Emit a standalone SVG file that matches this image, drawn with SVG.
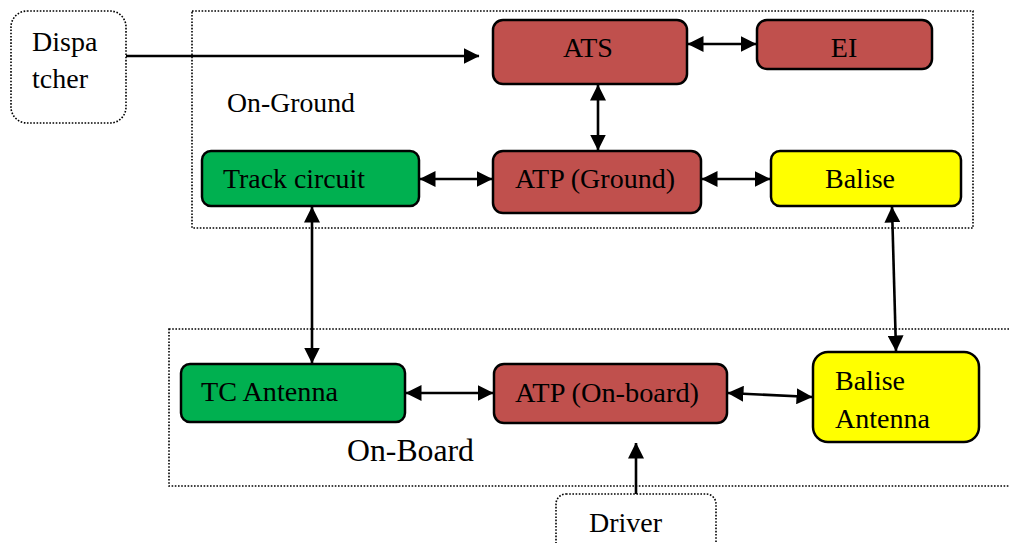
<svg xmlns="http://www.w3.org/2000/svg" width="1010" height="543" viewBox="0 0 1010 543">
<defs>
<marker id="ah" markerUnits="userSpaceOnUse" markerWidth="16" markerHeight="16" viewBox="0 0 16 16" refX="15.5" refY="8" orient="auto-start-reverse">
<path d="M0,0 L16,8 L0,16 z" fill="#000"/>
</marker>
<style>
.t{font-family:"Liberation Serif","Times New Roman",serif;font-size:28px;fill:#000}
.box{stroke:#000;stroke-width:2.5}
.red{fill:#C0504D}
.green{fill:#00B050}
.yellow{fill:#FFFF00}
.dot{fill:none;stroke:#000;stroke-width:1.6;stroke-dasharray:1.6 1.6}
.c{stroke:#000;stroke-width:2.6;fill:none}
</style>
</defs>
<rect width="1010" height="543" fill="#fff"/>
<g font-family="'Liberation Serif', 'Times New Roman', serif">
<g id="on-ground">
<rect class="dot" x="192" y="11" width="781" height="217"/>
<text class="t" x="227" y="112" textLength="128" lengthAdjust="spacingAndGlyphs">On-Ground</text>
</g>
<g id="on-board">
<rect class="dot" x="169" y="329" width="850" height="157"/>
<text class="t" x="347" y="461" style="font-size:31px" textLength="127" lengthAdjust="spacingAndGlyphs">On-Board</text>
</g>
<g id="dispatcher">
<rect class="dot" x="11" y="11" width="115" height="112" rx="16"/>
<text class="t" x="32" y="51">Dispa</text>
<text class="t" x="32" y="88">tcher</text>
</g>
<g id="driver">
<rect class="dot" x="556" y="494" width="160" height="70" rx="10"/>
<text class="t" x="589" y="532">Driver</text>
</g>
<g id="ats">
<rect class="box red" x="493" y="20" width="194" height="64" rx="10"/>
<text class="t" x="588" y="57" text-anchor="middle">ATS</text>
</g>
<g id="ei">
<rect class="box red" x="757" y="20" width="175" height="49" rx="10"/>
<text class="t" x="844" y="57" text-anchor="middle">EI</text>
</g>
<g id="track-circuit">
<rect class="box green" x="202" y="151" width="217" height="55" rx="9"/>
<text class="t" x="223" y="188" textLength="142" lengthAdjust="spacingAndGlyphs">Track circuit</text>
</g>
<g id="atp-ground">
<rect class="box red" x="493" y="151" width="208" height="62" rx="10"/>
<text class="t" x="515" y="188" textLength="160" lengthAdjust="spacingAndGlyphs">ATP (Ground)</text>
</g>
<g id="balise">
<rect class="box yellow" x="771" y="151" width="190" height="55" rx="9"/>
<text class="t" x="825" y="188">Balise</text>
</g>
<g id="tc-antenna">
<rect class="box green" x="181" y="364" width="224" height="58" rx="9"/>
<text class="t" x="201" y="401" textLength="137" lengthAdjust="spacingAndGlyphs">TC Antenna</text>
</g>
<g id="atp-onboard">
<rect class="box red" x="494" y="364" width="233" height="59" rx="10"/>
<text class="t" x="515" y="402" textLength="184" lengthAdjust="spacingAndGlyphs">ATP (On-board)</text>
</g>
<g id="balise-antenna">
<rect class="box yellow" x="813" y="352" width="166" height="90" rx="15"/>
<text class="t" x="835" y="390">Balise</text>
<text class="t" x="835" y="428">Antenna</text>
</g>
</g>
<g id="connectors">
<line class="c" x1="126" y1="56" x2="479" y2="56" marker-end="url(#ah)"/>
<line class="c" x1="688" y1="44" x2="756" y2="44" marker-start="url(#ah)" marker-end="url(#ah)"/>
<line class="c" x1="598" y1="85" x2="598" y2="150" marker-start="url(#ah)" marker-end="url(#ah)"/>
<line class="c" x1="420" y1="179" x2="492" y2="179" marker-start="url(#ah)" marker-end="url(#ah)"/>
<line class="c" x1="702" y1="179" x2="770" y2="179" marker-start="url(#ah)" marker-end="url(#ah)"/>
<line class="c" x1="312" y1="207" x2="312" y2="363" marker-start="url(#ah)" marker-end="url(#ah)"/>
<line class="c" x1="892" y1="207" x2="896" y2="351" marker-start="url(#ah)" marker-end="url(#ah)"/>
<line class="c" x1="406" y1="393" x2="493" y2="393" marker-start="url(#ah)" marker-end="url(#ah)"/>
<line class="c" x1="728" y1="393" x2="812" y2="397" marker-start="url(#ah)" marker-end="url(#ah)"/>
<line class="c" x1="636" y1="494" x2="636" y2="443" marker-end="url(#ah)"/>
</g>
</svg>
